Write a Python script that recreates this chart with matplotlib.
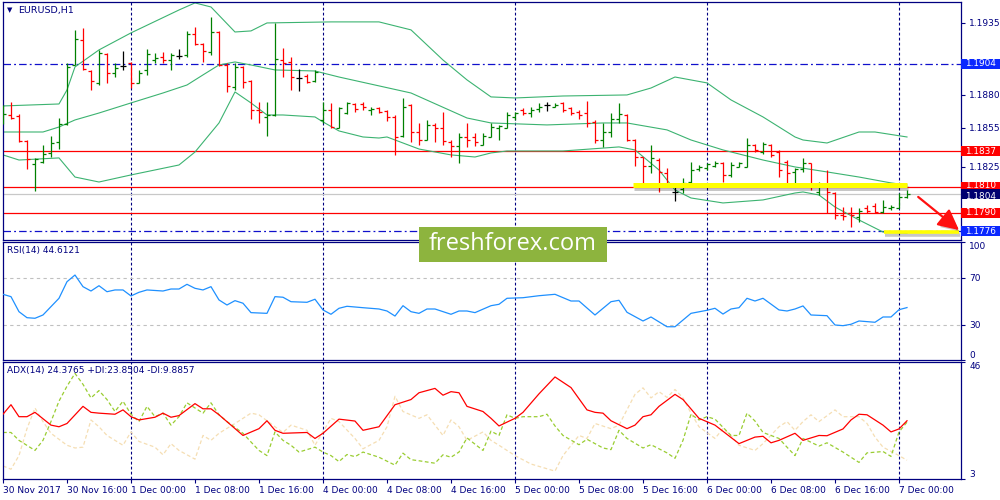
import matplotlib
matplotlib.use("Agg")
import matplotlib.pyplot as plt
import matplotlib.patheffects as pe
from matplotlib.patches import Rectangle
from matplotlib.transforms import blended_transform_factory

plt.rcParams['font.family'] = ['DejaVu Sans']

NAVY = '#000080'
BULL = '#008000'
BEAR = '#FF0000'
BAND = '#3CB371'

# EURUSD H1, 30 Nov 08:00 .. 7 Dec 01:00 (one bar per hour, weekend skipped)
opens = [1.18622, 1.18647, 1.18640, 1.18451, 1.18273, 1.18291, 1.18355, 1.18444, 1.18579, 1.19029,
         1.19220, 1.18986, 1.18894, 1.19113, 1.18971, 1.19022, 1.19047, 1.18894, 1.18991, 1.19067,
         1.19093, 1.19067, 1.19098, 1.19106, 1.19263, 1.19190, 1.19131, 1.19284, 1.19029, 1.18864,
         1.19016, 1.18910, 1.18685, 1.18635, 1.18647, 1.19067, 1.19055, 1.18927, 1.18945, 1.18907,
         1.18609, 1.18685, 1.18545, 1.18660, 1.18731, 1.18729, 1.18685, 1.18698, 1.18680, 1.18629,
         1.18487, 1.18724, 1.18520, 1.18456, 1.18571, 1.18545, 1.18444, 1.18411, 1.18477, 1.18477,
         1.18418, 1.18482, 1.18545, 1.18545, 1.18635, 1.18685, 1.18660, 1.18691, 1.18724, 1.18711,
         1.18742, 1.18698, 1.18673, 1.18660, 1.18596, 1.18456, 1.18520, 1.18614, 1.18647, 1.18456,
         1.18324, 1.18258, 1.18304, 1.18202, 1.18062, 1.18080, 1.18138, 1.18232, 1.18240, 1.18258,
         1.18283, 1.18189, 1.18253, 1.18253, 1.18418, 1.18367, 1.18418, 1.18367, 1.18291, 1.18215,
         1.18232, 1.18278, 1.18062, 1.18120, 1.18054, 1.17884, 1.17896, 1.17871, 1.17934, 1.17952,
         1.17909, 1.17934, 1.17934, 1.18024]
highs = [1.18724, 1.18744, 1.18655, 1.18456, 1.18316, 1.18418, 1.18487, 1.18627, 1.19045, 1.19297,
         1.19309, 1.18991, 1.19144, 1.19118, 1.19042, 1.19139, 1.19055, 1.18991, 1.19149, 1.19118,
         1.19126, 1.19118, 1.19149, 1.19291, 1.19317, 1.19195, 1.19398, 1.19289, 1.19042, 1.19042,
         1.19022, 1.18915, 1.18746, 1.18749, 1.19353, 1.19156, 1.19088, 1.18996, 1.18960, 1.18991,
         1.18746, 1.18742, 1.18711, 1.18744, 1.18736, 1.18744, 1.18706, 1.18711, 1.18685, 1.18647,
         1.18775, 1.18731, 1.18584, 1.18609, 1.18584, 1.18673, 1.18456, 1.18512, 1.18584, 1.18507,
         1.18507, 1.18584, 1.18571, 1.18673, 1.18673, 1.18698, 1.18711, 1.18736, 1.18749, 1.18742,
         1.18749, 1.18711, 1.18685, 1.18757, 1.18609, 1.18584, 1.18660, 1.18736, 1.18655, 1.18461,
         1.18329, 1.18418, 1.18316, 1.18240, 1.18100, 1.18164, 1.18291, 1.18265, 1.18283, 1.18299,
         1.18291, 1.18286, 1.18291, 1.18469, 1.18426, 1.18444, 1.18426, 1.18380, 1.18304, 1.18240,
         1.18316, 1.18283, 1.18138, 1.18227, 1.18062, 1.17942, 1.17942, 1.17934, 1.17960, 1.17978,
         1.17998, 1.17960, 1.18049, 1.18074]
lows = [1.18579, 1.18617, 1.18444, 1.18232, 1.18069, 1.18278, 1.18329, 1.18390, 1.18571, 1.19029,
        1.18991, 1.18838, 1.18876, 1.18894, 1.18940, 1.18991, 1.18851, 1.18889, 1.18953, 1.19042,
        1.19047, 1.18991, 1.19072, 1.19093, 1.19182, 1.19055, 1.19106, 1.19022, 1.18826, 1.18838,
        1.18851, 1.18614, 1.18589, 1.18487, 1.18640, 1.18940, 1.18838, 1.18833, 1.18894, 1.18902,
        1.18584, 1.18545, 1.18545, 1.18655, 1.18673, 1.18685, 1.18647, 1.18660, 1.18604, 1.18342,
        1.18482, 1.18444, 1.18418, 1.18456, 1.18444, 1.18418, 1.18324, 1.18278, 1.18405, 1.18411,
        1.18418, 1.18477, 1.18456, 1.18545, 1.18609, 1.18647, 1.18635, 1.18673, 1.18680, 1.18706,
        1.18673, 1.18647, 1.18614, 1.18558, 1.18436, 1.18405, 1.18477, 1.18584, 1.18451, 1.18258,
        1.18113, 1.18202, 1.18062, 1.18100, 1.17993, 1.18049, 1.18131, 1.18222, 1.18227, 1.18248,
        1.18138, 1.18176, 1.18248, 1.18253, 1.18367, 1.18349, 1.18329, 1.18176, 1.18113, 1.18095,
        1.18215, 1.18074, 1.18036, 1.17896, 1.17850, 1.17845, 1.17794, 1.17833, 1.17896, 1.17896,
        1.17896, 1.17922, 1.17934, 1.18011]
closes = [1.18655, 1.18622, 1.18449, 1.18309, 1.18311, 1.18349, 1.18436, 1.18579, 1.19014, 1.19225,
          1.18996, 1.18910, 1.19123, 1.18971, 1.19004, 1.19022, 1.18894, 1.18971, 1.19113, 1.19080,
          1.19067, 1.19106, 1.19098, 1.19263, 1.19187, 1.19139, 1.19284, 1.19029, 1.18869, 1.19016,
          1.18902, 1.18685, 1.18673, 1.18647, 1.19072, 1.19042, 1.18935, 1.18927, 1.18902, 1.18978,
          1.18685, 1.18558, 1.18698, 1.18736, 1.18691, 1.18706, 1.18693, 1.18673, 1.18635, 1.18482,
          1.18706, 1.18520, 1.18456, 1.18571, 1.18545, 1.18451, 1.18411, 1.18482, 1.18456, 1.18444,
          1.18487, 1.18558, 1.18563, 1.18647, 1.18660, 1.18665, 1.18685, 1.18711, 1.18724, 1.18724,
          1.18685, 1.18660, 1.18647, 1.18584, 1.18456, 1.18520, 1.18614, 1.18655, 1.18456, 1.18329,
          1.18258, 1.18316, 1.18215, 1.18113, 1.18062, 1.18131, 1.18227, 1.18253, 1.18273, 1.18283,
          1.18189, 1.18265, 1.18278, 1.18418, 1.18380, 1.18426, 1.18342, 1.18227, 1.18202, 1.18232,
          1.18278, 1.18113, 1.18120, 1.18062, 1.17884, 1.17876, 1.17884, 1.17917, 1.17917, 1.17909,
          1.17947, 1.17947, 1.18018, 1.18040]

# Bollinger bands (vertices at bar indices)
upper_idx = [0, 7, 8, 9, 12, 16, 22, 24, 26, 29, 31, 33, 41, 47, 51, 53, 55, 58, 61, 64, 70, 78, 81,
             84, 88, 91, 95, 99, 100, 103, 107, 109, 113]
upper_band = [1.18716, 1.18731, 1.18838, 1.19014, 1.19144, 1.19274, 1.19449, 1.19503, 1.19472,
              1.19281, 1.19289, 1.19350, 1.19358, 1.19358, 1.19297, 1.19182, 1.19067, 1.18915,
              1.18785, 1.18777, 1.18792, 1.18800, 1.18853, 1.18937, 1.18892, 1.18762, 1.18632,
              1.18479, 1.18456, 1.18433, 1.18517, 1.18517, 1.18479]
middle_idx = [0, 5, 7, 9, 12, 16, 20, 23, 25, 27, 29, 31, 34, 39, 42, 51, 58, 61, 68, 75, 78, 83, 86,
              90, 95, 99, 103, 107, 111, 113]
middle_band = [1.18517, 1.18517, 1.18555, 1.18609, 1.18662, 1.18739, 1.18815, 1.18876, 1.18953,
               1.19029, 1.19052, 1.19029, 1.18991, 1.18983, 1.18937, 1.18815, 1.18624, 1.18586,
               1.18571, 1.18586, 1.18586, 1.18533, 1.18456, 1.18380, 1.18303, 1.18250, 1.18212,
               1.18173, 1.18128, 1.18112]
lower_idx = [0, 2, 7, 9, 12, 16, 22, 24, 27, 29, 31, 33, 35, 39, 40, 42, 45, 47, 48, 52, 56, 59, 61,
             63, 70, 77, 79, 82, 84, 86, 90, 95, 99, 100, 102, 104, 107, 110, 113]
lower_band = [1.18342, 1.18303, 1.18319, 1.18173, 1.18135, 1.18189, 1.18265, 1.18364, 1.18586,
              1.18823, 1.18739, 1.18647, 1.18647, 1.18632, 1.18594, 1.18525, 1.18479, 1.18471,
              1.18479, 1.18387, 1.18342, 1.18326, 1.18357, 1.18372, 1.18372, 1.18403, 1.18380,
              1.18227, 1.18074, 1.18013, 1.17975, 1.17998, 1.18051, 1.18059, 1.18036, 1.17944,
              1.17845, 1.17753, 1.17746]

# RSI(14)
rsi_idx = [0, 1, 2, 3, 4, 5, 7, 8, 9, 10, 11, 12, 13, 14, 15, 16, 17, 18, 20, 21, 22, 23, 24, 25, 26,
           27, 28, 29, 30, 31, 33, 34, 35, 36, 38, 39, 40, 41, 42, 43, 45, 47, 48, 49, 50, 51, 52, 53,
           54, 56, 57, 58, 59, 61, 62, 63, 65, 67, 69, 71, 72, 74, 76, 77, 78, 80, 81, 83, 84, 86, 88,
           89, 90, 91, 92, 93, 94, 95, 97, 98, 99, 100, 101, 103, 104, 105, 106, 107, 109, 110, 111,
           112, 113]
rsi = [55.9, 53.9, 41.1, 36.0, 35.5, 38.3, 52.5, 66.6, 72.3, 62.4, 58.7, 63.2, 58.1, 59.6, 59.6, 54.5,
       57.6, 59.6, 58.7, 60.4, 60.4, 64.4, 61.0, 59.6, 62.4, 51.1, 46.8, 50.5, 48.3, 40.3, 39.7, 53.9,
       53.4, 49.6, 49.1, 51.7, 42.6, 38.9, 44.0, 45.7, 44.5, 43.4, 41.7, 37.4, 46.2, 41.1, 39.7, 43.4,
       43.4, 38.9, 41.7, 41.7, 40.3, 46.2, 47.4, 52.5, 53.0, 54.7, 55.9, 50.2, 50.2, 38.3, 49.6, 50.8,
       40.6, 33.2, 36.6, 28.3, 28.3, 39.7, 42.3, 44.0, 39.1, 43.4, 44.5, 52.5, 50.2, 52.5, 42.6, 41.7,
       43.4, 46.0, 38.3, 37.7, 29.8, 29.2, 30.4, 33.2, 32.1, 36.6, 36.6, 42.8, 44.6]

# ADX(14), +DI, -DI
adx_idx = [0, 1, 2, 3, 4, 6, 7, 8, 10, 11, 12, 14, 15, 16, 17, 19, 20, 21, 22, 24, 25, 26, 27, 30, 32,
           33, 34, 35, 38, 39, 40, 42, 44, 45, 47, 49, 51, 52, 54, 55, 56, 57, 58, 60, 61, 62, 64, 65,
           67, 69, 71, 73, 74, 75, 76, 78, 79, 80, 81, 82, 84, 85, 87, 89, 92, 94, 95, 96, 97, 99, 100,
           102, 103, 105, 106, 107, 108, 110, 111, 112, 113]
adx = [26.8, 30.3, 25.9, 25.9, 27.5, 22.8, 22.2, 23.4, 29.7, 27.5, 27.2, 26.8, 28.4, 25.9, 24.7, 25.7,
       27.2, 25.7, 26.3, 30.7, 28.8, 28.8, 26.6, 19.0, 21.5, 24.4, 20.9, 19.8, 20.1, 17.9, 19.8, 25.0,
       24.3, 20.9, 22.2, 30.3, 32.2, 34.7, 36.3, 33.8, 35.1, 34.7, 29.7, 27.8, 25.3, 22.5, 25.3, 27.5,
       34.3, 40.5, 36.6, 28.4, 27.5, 27.2, 24.4, 21.5, 22.8, 25.9, 26.6, 29.7, 34.1, 32.2, 25.3, 22.8,
       16.0, 18.4, 18.7, 16.3, 17.2, 19.8, 17.2, 19.0, 18.9, 21.4, 24.7, 26.8, 26.6, 22.8, 20.3, 21.4,
       24.4]
pdi_idx = [0, 1, 2, 4, 5, 6, 7, 8, 9, 10, 11, 12, 13, 14, 15, 16, 17, 18, 19, 20, 21, 22, 23, 25, 26,
           27, 28, 30, 31, 32, 33, 34, 35, 36, 37, 39, 40, 41, 42, 43, 44, 45, 47, 49, 50, 51, 52, 54,
           55, 56, 57, 58, 60, 61, 62, 63, 64, 65, 67, 68, 69, 70, 72, 73, 75, 76, 77, 78, 80, 81, 83,
           84, 85, 86, 87, 88, 89, 91, 92, 93, 94, 95, 97, 98, 99, 100, 102, 103, 105, 106, 107, 108,
           110, 111, 112, 113]
plus_di = [20.1, 20.1, 17.2, 13.5, 17.2, 24.1, 31.6, 37.1, 41.8, 37.8, 32.8, 35.5, 32.2, 27.8, 31.6,
           26.8, 24.1, 29.7, 25.9, 27.2, 22.8, 25.9, 31.0, 27.2, 31.0, 26.6, 24.1, 19.8, 16.6, 13.5,
           11.6, 20.3, 17.2, 15.4, 12.9, 14.7, 12.9, 11.6, 9.4, 12.0, 11.2, 12.9, 11.0, 8.1, 12.5, 10.1,
           9.7, 8.8, 11.9, 11.0, 12.9, 18.1, 13.5, 20.6, 19.0, 26.6, 25.3, 25.9, 25.9, 26.8, 22.5, 19.0,
           15.6, 17.6, 14.4, 13.8, 20.9, 17.9, 14.4, 15.6, 12.6, 10.6, 17.2, 26.8, 24.7, 25.9, 25.0,
           19.0, 19.0, 27.2, 24.3, 20.1, 17.9, 14.7, 11.6, 17.9, 15.1, 16.3, 12.9, 11.0, 9.1, 12.6,
           13.1, 11.3, 20.3, 23.9]
mdi_idx = [0, 1, 2, 3, 4, 5, 6, 8, 9, 10, 11, 12, 13, 15, 16, 17, 19, 20, 21, 22, 24, 25, 26, 27, 29,
           31, 32, 34, 35, 36, 38, 39, 41, 42, 44, 45, 47, 48, 49, 50, 52, 53, 55, 56, 57, 58, 60, 61,
           62, 64, 66, 69, 70, 72, 73, 74, 76, 77, 79, 80, 81, 82, 83, 84, 85, 86, 87, 89, 90, 91, 92,
           94, 95, 97, 98, 99, 100, 101, 102, 104, 105, 107, 108, 109, 110, 112, 113]
minus_di = [7.8, 6.6, 11.6, 21.5, 29.1, 24.1, 19.8, 15.4, 14.4, 14.7, 24.7, 22.2, 19.0, 15.4, 20.3,
            16.8, 14.7, 11.9, 16.0, 13.5, 10.3, 19.0, 17.2, 19.8, 23.4, 27.2, 26.6, 22.2, 20.1, 22.8,
            20.9, 15.4, 25.3, 24.1, 17.9, 14.1, 17.2, 22.2, 33.4, 27.8, 25.3, 26.6, 19.0, 24.7, 22.2,
            17.2, 20.3, 17.2, 15.4, 11.6, 8.5, 5.9, 11.6, 19.0, 17.9, 23.4, 21.5, 22.8, 34.1, 36.5,
            32.8, 35.1, 33.0, 35.9, 32.8, 27.2, 22.2, 17.9, 21.5, 19.0, 15.4, 13.5, 16.0, 22.2, 24.1,
            20.9, 24.1, 26.6, 24.1, 28.4, 25.9, 25.9, 23.4, 18.4, 14.7, 11.6, 9.9]

time_idx = [0, 8, 16, 24, 32, 40, 48, 56, 64, 72, 80, 88, 96, 104, 112]
time_labels = ['30 Nov 2017', '30 Nov 16:00', '1 Dec 00:00', '1 Dec 08:00', '1 Dec 16:00',
               '4 Dec 00:00', '4 Dec 08:00', '4 Dec 16:00', '5 Dec 00:00', '5 Dec 08:00',
               '5 Dec 16:00', '6 Dec 00:00', '6 Dec 08:00', '6 Dec 16:00', '7 Dec 00:00']
day_separators = [16, 40, 64, 88, 112]
price_ticks = [1.1935, 1.1880, 1.1855, 1.1825]

red_levels = [1.1837, 1.1810, 1.1790]
blue_levels = [1.1904, 1.1776]
bid = closes[-1]
# (price, box colour, text nudge in pixels; the bid label sits a little lower so both stay readable)
price_boxes = [(1.1904, '#0A28FF', 0), (1.1837, '#FF0000', 0), (1.1810, '#FF0000', 1),
               (1.1804, '#000070', -2), (1.1790, '#FF0000', 0), (1.1776, '#0A28FF', 0)]

# analyst markings
hl_upper = (78.75, 113.0, 1.18114)
hl_lower = (110.1, 119.5, 1.17752)
arrow_from = (114.4, 1.18021)
arrow_to = (119.5, 1.17768)

fig = plt.figure(figsize=(10, 5), dpi=100)


def px_axes(left, top, right, bottom):
    return fig.add_axes([left / 1000, 1 - bottom / 500, (right - left) / 1000, (bottom - top) / 500])


ax = px_axes(2.5, 2, 961, 240)
ax_rsi = px_axes(2.5, 242, 961, 360)
ax_adx = px_axes(2.5, 362, 961, 479)

for a in (ax, ax_rsi, ax_adx):
    a.set_xlim(-0.06, 119.75)
    for s in a.spines.values():
        s.set_color(NAVY)
        s.set_linewidth(0.9)
    a.yaxis.tick_right()
    a.tick_params(axis='y', direction='out', length=3, width=0.8, colors=NAVY, labelsize=6.5, pad=3)
    a.tick_params(axis='x', bottom=False, labelbottom=False)
    for d in day_separators:
        a.axvline(d, color=NAVY, lw=0.8, ls=(0, (2.5, 2)), zorder=1)

# main price panel
ax.set_ylim(1.17692, 1.19510)
ax.set_yticks(price_ticks)
ax.set_yticklabels([f'{p:.4f}' for p in price_ticks])

for lv in blue_levels:
    ax.axhline(lv, color='#1010CC', lw=0.9, ls=(0, (6, 2.5, 1.5, 2.5)), zorder=1)
for lv in red_levels:
    ax.axhline(lv, color='#FF0000', lw=0.9, zorder=1)
ax.axhline(bid, color='#C8C8C8', lw=0.9, zorder=1)

ax.plot(upper_idx, upper_band, color=BAND, lw=0.8, zorder=2)
ax.plot(middle_idx, middle_band, color=BAND, lw=0.8, zorder=2)
ax.plot(lower_idx, lower_band, color=BAND, lw=0.8, zorder=2)

bar_x = list(range(len(opens)))
bar_colors = [BULL if c > o else BEAR if c < o else 'black' for o, c in zip(opens, closes)]
ax.vlines(bar_x, lows, highs, colors=bar_colors, lw=0.9, zorder=3)
ax.hlines(opens, [x - 0.4 for x in bar_x], bar_x, colors=bar_colors, lw=0.9, zorder=3)
ax.hlines(closes, bar_x, [x + 0.4 for x in bar_x], colors=bar_colors, lw=0.9, zorder=3)

shadow = [pe.SimpleLineShadow(offset=(0.8, -2), shadow_color='black', alpha=0.22), pe.Normal()]
ax.plot([hl_upper[0], hl_upper[1]], [hl_upper[2]] * 2, color='#FFFF00', lw=3.6,
        solid_capstyle='butt', zorder=4, path_effects=shadow)
ax.plot([hl_lower[0], hl_lower[1]], [hl_lower[2]] * 2, color='#FFFF00', lw=2.6,
        solid_capstyle='butt', zorder=4, clip_on=False, path_effects=shadow)

ax.annotate('', xy=arrow_to, xytext=arrow_from, annotation_clip=False, zorder=6,
            arrowprops=dict(arrowstyle='-|>,head_length=0.9,head_width=0.45', color='#FF1010',
                            lw=1.6, mutation_scale=14, shrinkA=0, shrinkB=0,
                            path_effects=[pe.SimplePatchShadow(offset=(1.5, -2), alpha=0.25),
                                          pe.Normal()]))

box_tr = blended_transform_factory(ax.transAxes, ax.transData)
px_price = (ax.get_ylim()[1] - ax.get_ylim()[0]) / 238
box_h = 10 * px_price
for price, col, nudge in price_boxes:
    ax.add_patch(Rectangle((1.0005, price - box_h / 2), 0.041, box_h, transform=box_tr,
                           facecolor=col, edgecolor='none', clip_on=False, zorder=7))
    ax.text(1.0045, price + nudge * px_price, f'{price:.4f}', transform=box_tr, color='white',
            fontsize=6.4, va='center', ha='left', clip_on=False, zorder=8)

fig.text(7 / 1000, 1 - 10 / 500, '\u25BC', color=NAVY, fontsize=5, va='center')
fig.text(18 / 1000, 1 - 10 / 500, 'EURUSD,H1', color=NAVY, fontsize=6.8, va='center')

# RSI panel
ax_rsi.set_ylim(0, 100.4)
ax_rsi.axhline(70, color='#C0C0C0', lw=0.8, ls=(0, (3, 3)), zorder=1)
ax_rsi.axhline(30, color='#C0C0C0', lw=0.8, ls=(0, (3, 3)), zorder=1)
ax_rsi.plot(rsi_idx, rsi, color='#1E90FF', lw=0.9, zorder=3)
ax_rsi.set_yticks([0, 30, 70, 100])
ax_rsi.set_yticklabels(['0', '30', '70', '100'])
rsi_lbls = ax_rsi.get_yticklabels()
rsi_lbls[0].set_va('bottom')
rsi_lbls[3].set_va('top')
fig.text(7 / 1000, 1 - 251 / 500, 'RSI(14) 44.6121', color=NAVY, fontsize=6.5, va='center')

# ADX panel
ax_adx.set_ylim(3, 46)
ax_adx.plot(mdi_idx, minus_di, color='#F5DEB3', lw=0.9, ls=(0, (3, 2)), zorder=2)
ax_adx.plot(pdi_idx, plus_di, color='#9ACD32', lw=0.9, ls=(0, (3, 2)), zorder=2)
ax_adx.plot(adx_idx, adx, color='#FF0000', lw=0.9, zorder=3)
ax_adx.set_yticks([3, 46])
ax_adx.set_yticklabels(['3', '46'])
adx_lbls = ax_adx.get_yticklabels()
adx_lbls[0].set_va('bottom')
adx_lbls[1].set_va('top')
fig.text(7 / 1000, 1 - 371 / 500, 'ADX(14) 24.3765 +DI:23.8504 -DI:9.8857', color=NAVY,
         fontsize=6.5, va='center')

ax_adx.tick_params(axis='x', bottom=True, labelbottom=True, direction='out', length=3, width=0.8,
                   colors=NAVY, labelsize=6.5, pad=2)
ax_adx.set_xticks(time_idx)
ax_adx.set_xticklabels(time_labels, ha='left')

# watermark
fig.patches.append(Rectangle((419 / 1000, 1 - 262 / 500), 188 / 1000, 35 / 500,
                             transform=fig.transFigure, facecolor='#8DB43E', edgecolor='none',
                             zorder=20))
fig.text(513 / 1000, 1 - 244.5 / 500, 'freshforex.com', color='white', fontsize=17,
         family=['Open Sans', 'DejaVu Sans'], ha='center', va='center', zorder=21)

fig.savefig('out.png', dpi=100)
